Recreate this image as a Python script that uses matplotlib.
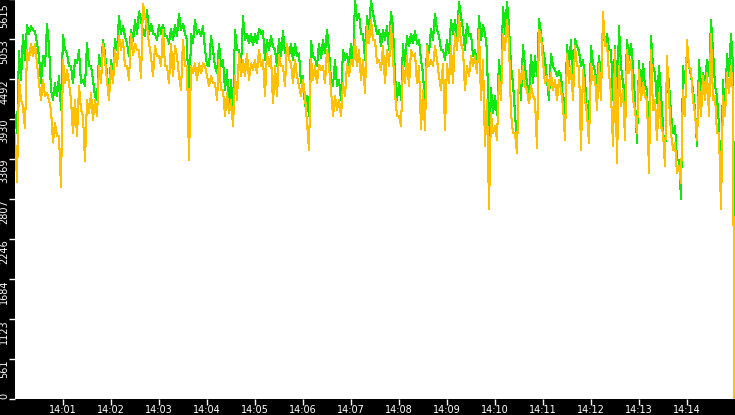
import matplotlib
matplotlib.use('Agg')
import matplotlib.pyplot as plt
import matplotlib.dates as mdates
from matplotlib.transforms import ScaledTranslation
from datetime import datetime, timedelta

# upper and lower reading of each 5 s slot from 14:00:00
green_hi = [
    3990, 4880, 5110, 5250, 5230, 5160, 4810, 4810, 5260, 4340,
    4430, 4530, 5110, 4850, 4670, 4760, 4900, 4480, 5000, 4670,
    4250, 4830, 5040, 4570, 4760, 5060, 5370, 5230, 4990, 5180,
    5320, 5440, 5160, 5460, 5270, 5130, 5250, 5250, 5090, 5200,
    5250, 5410, 5270, 5040, 5130, 5320, 5180, 5230, 4690, 5090,
    4670, 4990, 4760, 4620, 4480, 5180, 4900, 5370, 5130, 5130,
    5130, 5200, 5160, 5040, 5090, 4900, 5060, 5160, 4950, 4990,
    4990, 4850, 4530, 4250, 5020, 4780, 4990, 5040, 5180, 4480,
    4760, 4480, 4900, 4850, 4990, 5600, 5410, 5130, 5370, 5600,
    5270, 5180, 5180, 5230, 5430, 4530, 4430, 4990, 5090, 5130,
    5160, 5040, 4570, 4990, 5200, 5410, 5090, 4900, 5040, 5320,
    5320, 5580, 5180, 5270, 5130, 4900, 5370, 5250, 4900, 4360,
    4250, 4760, 5510, 5580, 4670, 4010, 4570, 4970, 4430, 4830,
    4810, 5340, 4900, 4480, 4850, 4620, 4600, 4200, 4970, 5040,
    5060, 4880, 4760, 4010, 4950, 4600, 4810, 5320, 5130, 4900,
    4950, 5230, 4430, 5040, 4990, 4200, 4740, 4710, 4340, 5090,
    4570, 4670, 3830, 4670, 4010, 3830, 3360, 4670, 4900, 4530,
    4060, 4760, 4570, 4760, 5320, 4390, 3830, 4480, 4850, 5130]
green_lo = [
    3730, 4480, 4760, 5130, 5180, 4990, 4430, 4670, 4950, 4200,
    4250, 4060, 4900, 4670, 4430, 4710, 4430, 4390, 4670, 4480,
    4200, 4670, 4850, 4290, 4530, 4900, 5130, 5090, 4810, 5020,
    5130, 5320, 5090, 5130, 5130, 5040, 5130, 5090, 4990, 5040,
    5090, 5180, 5130, 3920, 4990, 5130, 5090, 4900, 4670, 4900,
    4570, 4670, 4340, 4060, 4060, 4900, 4670, 5040, 4990, 4970,
    4990, 5130, 4760, 4900, 4950, 4670, 4810, 4850, 4810, 4760,
    4810, 4430, 4110, 3970, 4810, 4670, 4780, 4850, 4900, 4390,
    4390, 4200, 4760, 4670, 4710, 5320, 5130, 4760, 5180, 5410,
    5130, 4950, 5040, 4900, 5230, 4200, 4200, 4670, 4950, 4990,
    4990, 4760, 4110, 4850, 5040, 5180, 4900, 4760, 4850, 5130,
    5040, 5370, 4900, 5090, 4810, 4670, 5040, 5130, 3520, 4010,
    3990, 4390, 5130, 5230, 4430, 3590, 4200, 4670, 4250, 4430,
    4530, 5130, 4760, 4200, 4670, 4530, 4530, 3970, 4670, 4430,
    4950, 4670, 4480, 3920, 4710, 4430, 4530, 4950, 4900, 4200,
    4110, 4670, 4200, 4760, 4670, 3590, 4290, 4390, 3640, 4670,
    4150, 4290, 3270, 4430, 3730, 3360, 2800, 4430, 4670, 4340,
    3550, 4290, 4430, 4530, 4900, 4250, 2990, 3970, 4530, 4670]

orange_hi = [
    3730, 4480, 4110, 4900, 4990, 4990, 4430, 4480, 4290, 4060,
    3870, 3690, 4760, 4620, 4200, 4200, 4390, 3970, 4200, 4290,
    4200, 4670, 4990, 4480, 4670, 4900, 5090, 5040, 4670, 5130,
    4990, 4900, 5550, 5230, 4810, 4950, 4810, 5180, 4670, 4990,
    4950, 4530, 5040, 4670, 4670, 4710, 4710, 4710, 4530, 4530,
    4430, 4760, 4340, 4290, 4200, 4530, 4850, 4760, 4850, 4710,
    4760, 4900, 4760, 4850, 4810, 4670, 4830, 4670, 4990, 4710,
    4760, 4390, 4480, 3870, 4780, 4670, 4690, 4670, 4900, 4340,
    4250, 4200, 4430, 4710, 4760, 5040, 4900, 4760, 5230, 5320,
    5040, 4760, 4950, 4900, 5230, 4290, 3970, 4670, 4810, 4900,
    4850, 4670, 4340, 4950, 4760, 4950, 4530, 4710, 4710, 4950,
    5130, 5370, 4900, 4670, 4810, 4810, 5180, 4760, 4200, 4010,
    3830, 4530, 5130, 5320, 4010, 3730, 4620, 4670, 4340, 4390,
    4200, 5180, 4740, 4530, 4570, 4480, 4480, 4110, 4850, 4670,
    4950, 4670, 4620, 4010, 4710, 4530, 4710, 5430, 4990, 4290,
    4900, 4670, 4340, 4900, 4760, 4060, 4620, 4430, 4200, 4900,
    4200, 4290, 3730, 4810, 3730, 3590, 3270, 4340, 5040, 4620,
    4010, 4430, 4530, 4570, 5130, 4250, 3730, 4250, 4570, 4670]
orange_lo = [
    3040, 4200, 3800, 4760, 4810, 4710, 4200, 4250, 4200, 3600,
    3690, 2970, 4430, 4430, 3730, 3690, 4060, 3340, 4010, 3920,
    3970, 4430, 4760, 4200, 4430, 4670, 4900, 4670, 4480, 4830,
    4900, 4500, 5370, 4990, 4530, 4810, 4670, 4670, 4430, 4530,
    4810, 4340, 4670, 3360, 4570, 4480, 4570, 4670, 4390, 4430,
    4200, 4340, 3970, 4010, 3830, 4200, 4530, 4530, 4480, 4620,
    4570, 4670, 4250, 4670, 4150, 4250, 4670, 4390, 4760, 4430,
    4530, 4250, 4250, 3500, 4480, 4430, 4620, 4430, 4670, 3970,
    4060, 3970, 4250, 4530, 4670, 4670, 4480, 4290, 4990, 5040,
    4710, 4620, 4430, 4670, 4810, 3970, 3830, 4430, 4390, 4810,
    4430, 3790, 3780, 4670, 4670, 4760, 4340, 3780, 4430, 4430,
    4900, 4990, 4340, 4530, 4670, 4570, 4200, 3550, 2670, 3730,
    3640, 4200, 4900, 4990, 3730, 3450, 4430, 4390, 4150, 4250,
    3520, 5090, 4430, 4340, 4340, 4200, 4340, 3640, 4430, 4200,
    4670, 3500, 4200, 3590, 4480, 4060, 4200, 4950, 4570, 3550,
    3310, 4110, 3640, 4570, 4200, 3730, 4200, 4250, 3170, 4060,
    3640, 3830, 3270, 4200, 3500, 3170, 3030, 3970, 4670, 4200,
    3640, 3970, 4200, 3970, 4200, 3730, 2660, 3970, 4290, 4290]

# last reading at 14:14:59, where the trace falls away
green_end = 2050
orange_end = 0

ytick_values = [0, 561.5, 1123, 1684.5, 2246, 2807.5, 3369, 3930.5, 4492, 5053.5, 5615]
ytick_labels = ['0', '561', '1123', '1684', '2246', '2807', '3369', '3930', '4492', '5053', '5615']
xtick_minutes = list(range(1, 15))

start = datetime(2024, 1, 1, 14, 0, 0)
times = []
for i in range(len(green_hi)):
    times.append(start + timedelta(seconds=5 * i))
    times.append(start + timedelta(seconds=5 * i + 2.5))
times.append(start + timedelta(seconds=899))

green = [v for pair in zip(green_hi, green_lo) for v in pair] + [green_end]
orange = [v for pair in zip(orange_hi, orange_lo) for v in pair] + [orange_end]

fig = plt.figure(figsize=(7.35, 4.15), dpi=100, facecolor='black')
ax = fig.add_axes([15 / 735, 16 / 415, 720 / 735, 400 / 415])
ax.set_facecolor('white')

ax.plot(times, green, color='#10e810', lw=0.75, antialiased=False)
ax.plot(times, orange, color='#ffc000', lw=0.75, antialiased=False)

ax.set_xlim(start, start + timedelta(minutes=15))
ax.set_ylim(0, 5615)

for s in ax.spines.values():
    s.set_visible(False)

ax.set_xticks([start + timedelta(minutes=m) for m in xtick_minutes])
ax.xaxis.set_major_formatter(mdates.DateFormatter('%H:%M'))
ax.set_yticks(ytick_values)
ax.set_yticklabels(ytick_labels)

ax.tick_params(colors='white', direction='out', length=4, width=1, labelsize=7, pad=0)
for i, lbl in enumerate(ax.get_yticklabels()):
    lbl.set_rotation(90)
    lbl.set_va('bottom' if i == 0 else 'top')
    lbl.set_ha('right')
    if i == len(ytick_labels) - 1:
        lbl.set_transform(lbl.get_transform() + ScaledTranslation(0, -3 / 72, fig.dpi_scale_trans))

fig.savefig('out.png', dpi=100, facecolor='black')
